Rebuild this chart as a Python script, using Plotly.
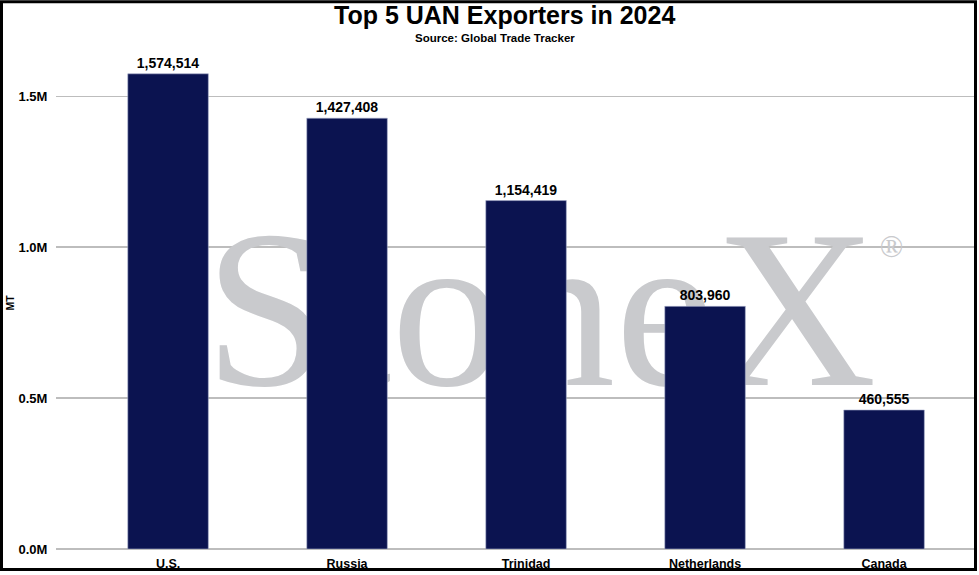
import plotly.graph_objects as go

countries = ["U.S.", "Russia", "Trinidad", "Netherlands", "Canada"]
exports_mt = [1574514, 1427408, 1154419, 803960, 460555]
ytick_vals = [0, 500000, 1000000, 1500000]
ytick_text = ["0.0M", "0.5M", "1.0M", "1.5M"]

title_text = "Top 5 UAN Exporters in 2024"
subtitle_text = "Source: Global Trade Tracker"
yaxis_label = "MT"

W, H = 979, 575
L, R, T, B = 56, 4, 48, 23
PW, PH = W - L - R, H - T - B


def px(x):
    return (x - L) / PW


def py(y):
    return (H - B - y) / PH


FONT = "Arial, Liberation Sans, sans-serif"
NAVY = "#0b1350"

fig = go.Figure()

# Watermark on the (hidden) base axes, so the bars overlay it
fig.add_trace(go.Scatter(
    x=[px(540.5)], y=[py(331)], xaxis="x", yaxis="y",
    mode="text", text=["StoneX"], textposition="middle center",
    textfont=dict(family="Liberation Serif, Times New Roman, serif", size=224, color="#c9cacd"),
    hoverinfo="skip", showlegend=False,
))
fig.add_trace(go.Scatter(
    x=[px(891.5)], y=[py(250)], xaxis="x", yaxis="y",
    mode="text", text=["®"], textposition="middle center",
    textfont=dict(family="Liberation Serif, Times New Roman, serif", size=31, color="#c9cacd"),
    hoverinfo="skip", showlegend=False,
))

fig.add_trace(go.Bar(
    x=countries, y=exports_mt, xaxis="x2", yaxis="y2",
    width=0.45,
    marker=dict(color=NAVY, line=dict(color="#aab0cc", width=0.6)),
    texttemplate="%{y:,}", textposition="outside", constraintext="none",
    textfont=dict(family=FONT, size=14, color="#000000", weight="bold"),
    cliponaxis=False, showlegend=False, hoverinfo="skip",
))

fig.update_layout(
    width=W, height=H,
    margin=dict(l=L, r=R, t=T, b=B),
    paper_bgcolor="white", plot_bgcolor="white",
    font=dict(family=FONT, color="#000000"),
    showlegend=False,
    xaxis=dict(range=[0, 1], visible=False, fixedrange=True),
    yaxis=dict(range=[0, 1], visible=False, fixedrange=True),
    xaxis2=dict(
        overlaying="x", anchor="y2", type="category",
        categoryorder="array", categoryarray=countries,
        range=[-0.626, 4.508], showgrid=False, showline=False, zeroline=False,
        ticks="outside", ticklen=3, tickcolor="rgba(0,0,0,0)",
        tickfont=dict(family=FONT, size=12.5, color="#000000", weight="bold"),
    ),
    yaxis2=dict(
        overlaying="y", anchor="x2", side="left",
        range=[0, 1660000],
        tickvals=ytick_vals, ticktext=ytick_text,
        showgrid=True, gridcolor="#bdbdbd", gridwidth=1.5,
        zeroline=True, zerolinecolor="#bdbdbd", zerolinewidth=1.5,
        showline=False,
        ticks="outside", ticklen=5, tickcolor="rgba(0,0,0,0)",
        tickfont=dict(family=FONT, size=13, color="#000000", weight="bold"),
    ),
    annotations=[
        dict(text=title_text, xref="paper", yref="paper", x=px(504.5), y=py(15),
             xanchor="center", yanchor="middle", showarrow=False,
             font=dict(family=FONT, size=25, color="#000000", weight="bold")),
        dict(text=subtitle_text, xref="paper", yref="paper", x=px(495), y=py(38),
             xanchor="center", yanchor="middle", showarrow=False,
             font=dict(family=FONT, size=11.5, color="#000000", weight="bold")),
        dict(text=yaxis_label, xref="paper", yref="paper", x=px(10), y=py(304),
             xanchor="center", yanchor="middle", showarrow=False, textangle=-90,
             font=dict(family=FONT, size=10.5, color="#000000", weight="bold")),
    ],
    shapes=[
        dict(type="rect", xref="paper", yref="paper",
             x0=px(1.5), x1=px(975.5), y0=py(1.5), y1=py(572.5),
             line=dict(color="#000000", width=3), fillcolor="rgba(0,0,0,0)", layer="above"),
    ],
)

fig.write_html(
    "out.html",
    config={"displayModeBar": False, "staticPlot": True},
    post_script="document.body.style.margin='0';document.body.style.padding='0';document.body.style.overflow='hidden';",
)
